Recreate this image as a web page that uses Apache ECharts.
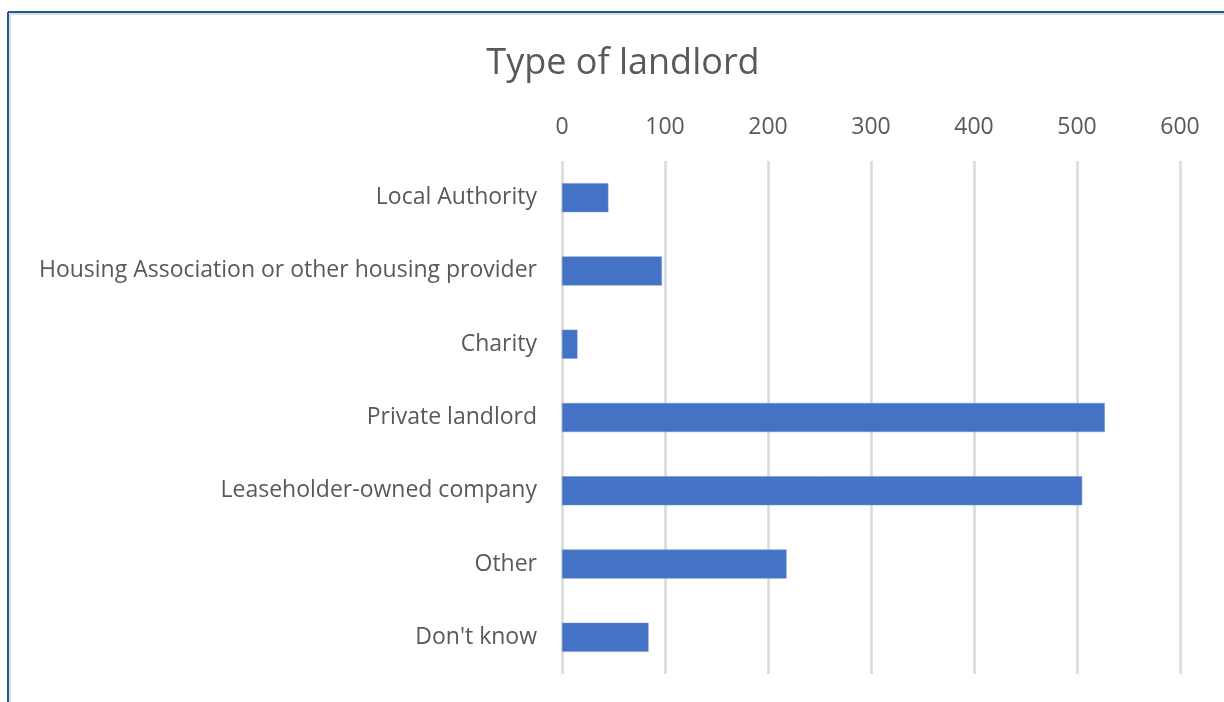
<!DOCTYPE html>
<html>
<head>
<meta charset="utf-8">
<script src="https://cdn.jsdelivr.net/npm/echarts@6/dist/echarts.min.js"></script>
<style>
html,body{margin:0;padding:0;background:#fff;}
#chart{width:1224px;height:702px;}
</style>
</head>
<body>
<div id="chart"></div>
<script>
const titleText = 'Type of landlord';
const categories = [
  'Local Authority',
  'Housing Association or other housing provider',
  'Charity',
  'Private landlord',
  'Leaseholder-owned company',
  'Other',
  "Don't know"
];
const values = [45, 97, 15, 527, 505, 218, 84];
const axisMin = 0;
const axisMax = 600;
const axisStep = 100;

const FONT = 'Open Sans';
const chart = echarts.init(document.getElementById('chart'));
chart.setOption({
  animation: false,
  backgroundColor: '#ffffff',
  title: {
    text: titleText,
    left: 618,
    top: 41,
    textAlign: 'center',
    textStyle: {fontFamily: FONT, fontSize: 36, fontWeight: 'normal', color: '#595959'}
  },
  grid: {left: 562, right: 44, top: 161, bottom: 28, containLabel: false},
  xAxis: {
    type: 'value',
    position: 'top',
    min: axisMin,
    max: axisMax,
    interval: axisStep,
    axisLine: {show: false},
    axisTick: {show: false},
    axisLabel: {fontFamily: FONT, fontSize: 23, color: '#595959', margin: 22},
    splitLine: {show: true, lineStyle: {color: '#d9d9d9', width: 2.5}}
  },
  yAxis: {
    type: 'category',
    data: categories,
    inverse: true,
    axisLine: {show: false},
    axisTick: {show: false},
    axisLabel: {fontFamily: FONT, fontSize: 23, color: '#595959', margin: 25}
  },
  series: [{
    type: 'bar',
    data: values,
    barWidth: 29,
    itemStyle: {color: '#4472C4', borderColor: '#6f93d3', borderWidth: 0.5}
  }],
  graphic: [
    {type: 'line', shape: {x1: 8, y1: 12, x2: 1224, y2: 12}, style: {stroke: '#1f5a94', lineWidth: 2}},
    {type: 'line', shape: {x1: 8, y1: 12, x2: 8, y2: 702}, style: {stroke: '#1f5a94', lineWidth: 2}},
    {type: 'line', shape: {x1: 10, y1: 14, x2: 1224, y2: 14}, style: {stroke: '#d4d4d4', lineWidth: 1.5}},
    {type: 'line', shape: {x1: 10, y1: 14, x2: 10, y2: 702}, style: {stroke: '#d4d4d4', lineWidth: 1.5}}
  ]
});
</script>
</body>
</html>
